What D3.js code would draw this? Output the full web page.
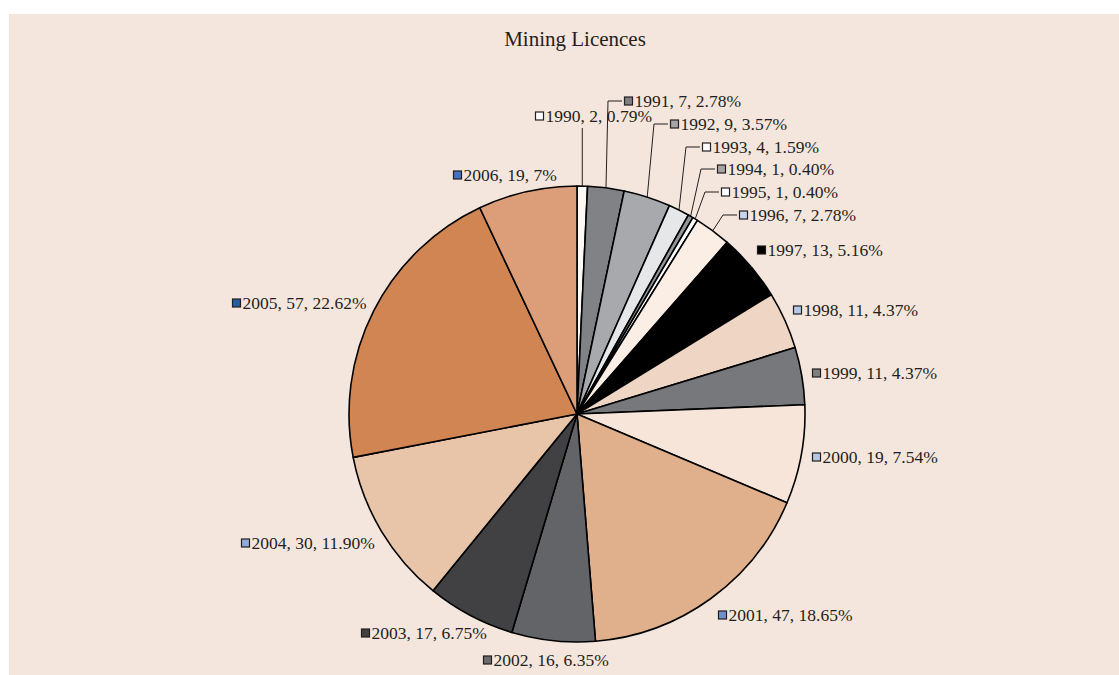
<!DOCTYPE html>
<meta charset="utf-8">
<style>
  html, body { margin: 0; padding: 0; background: #ffffff; }
  svg { display: block; }
  text { font-family: "Liberation Serif", "DejaVu Serif", serif; fill: #231f20; }
</style>
<body>
<div class="chart"></div>
<script src="https://d3js.org/d3.v7.min.js"></script>
<script>
    // chart data
    const years = ["1990","1991","1992","1993","1994","1995","1996","1997","1998","1999",
                   "2000","2001","2002","2003","2004","2005","2006"];
    const licences = [2, 7, 9, 4, 1, 1, 7, 13, 11, 11, 19, 47, 16, 17, 30, 57, 19];
    const shares = ["0.79%","2.78%","3.57%","1.59%","0.40%","0.40%","2.78%","5.16%","4.37%","4.37%",
                    "7.54%","18.65%","6.35%","6.75%","11.90%","22.62%","7%"];

    // styling
    const sliceColours = ["#fdf9f5","#808285","#a7a9ac","#e6e7e8","#939598","#ffffff","#fbeee5","#000000",
                          "#efd6c4","#77787b","#f7e5d9","#e0af8b","#636467","#414042","#e8c4a9","#d08552","#db9e78"];
    const keyColours = ["#ffffff","#808080","#a5a5a5","#ffffff","#a5a5a5","#ffffff","#c9d6ee","#000000",
                        "#b4c7e7","#7f7f7f","#b4c7e7","#7190c9","#6b6b6b","#404040","#8faadc","#255e9e","#4472c4"];
    // label box anchor (left of key square, vertical centre) relative to pie centre
    const labelOffsets = [[-42,-298],[47,-313],[93,-290],[125,-267],[140,-245],[144,-222],[162,-199],
                          [180,-164],[216,-104],[235,-41],[235,43],[141,201],[-94,246],[-216,219],
                          [-336,129],[-345,-111],[-124,-239]];
    // leader line type: 0 none, 1 elbow to the right, 2 straight up
    const leaders = [2,1,1,1,1,1,1,0,0,0,0,0,0,0,0,0,0];

    const width = 1119, height = 675;
    const cx = 577, cy = 414, radius = 228;

    const svg = d3.select(".chart").append("svg")
        .attr("width", width)
        .attr("height", height);

    svg.append("rect")
        .attr("x", 9).attr("y", 14)
        .attr("width", width - 9).attr("height", height - 14)
        .attr("fill", "#f4e6dc");

    svg.append("text")
        .attr("x", 575).attr("y", 46)
        .attr("text-anchor", "middle")
        .style("font-size", "21px")
        .text("Mining Licences");

    let data = years.map((y, i) => ({year: y, value: licences[i], share: shares[i], i: i}));

    let pie = d3.pie().sort(null).value(d => d.value);
    let arcs = pie(data);
    let arc = d3.arc().innerRadius(0).outerRadius(radius);

    let g = svg.append("g").attr("transform", `translate(${cx},${cy})`);

    g.selectAll("path.slice")
        .data(arcs)
        .join("path")
        .attr("class", "slice")
        .attr("d", arc)
        .attr("fill", d => sliceColours[d.data.i])
        .attr("stroke", "#000")
        .attr("stroke-width", 1.6)
        .attr("stroke-linejoin", "round");

    // leader lines
    let leaderG = g.append("g")
        .attr("fill", "none")
        .attr("stroke", "#231f20")
        .attr("stroke-width", 1);

    arcs.forEach(d => {
        let type = leaders[d.data.i];
        if (!type) return;
        let mid = (d.startAngle + d.endAngle) / 2;
        let px = radius * Math.sin(mid), py = -radius * Math.cos(mid);
        let [lx, ly] = labelOffsets[d.data.i];
        let pts;
        if (type === 1) {
            pts = [[px, py], [lx - 16, ly], [lx - 2, ly]];
        } else {
            pts = [[px, py], [px, ly + 12]];
        }
        leaderG.append("path").attr("d", d3.line()(pts));
    });

    // labels
    let labels = g.selectAll("g.label")
        .data(arcs)
        .join("g")
        .attr("class", "label")
        .attr("transform", d => `translate(${labelOffsets[d.data.i][0]},${labelOffsets[d.data.i][1]})`);

    labels.append("rect")
        .attr("x", 0.5).attr("y", -4)
        .attr("width", 8).attr("height", 8)
        .attr("fill", d => keyColours[d.data.i])
        .attr("stroke", "#231f20")
        .attr("stroke-width", 1.2);

    labels.append("text")
        .attr("x", 10.5)
        .attr("y", 5.8)
        .style("font-size", "17.5px")
        .text(d => `${d.data.year}, ${d.data.value}, ${d.data.share}`);
</script>
</body>
